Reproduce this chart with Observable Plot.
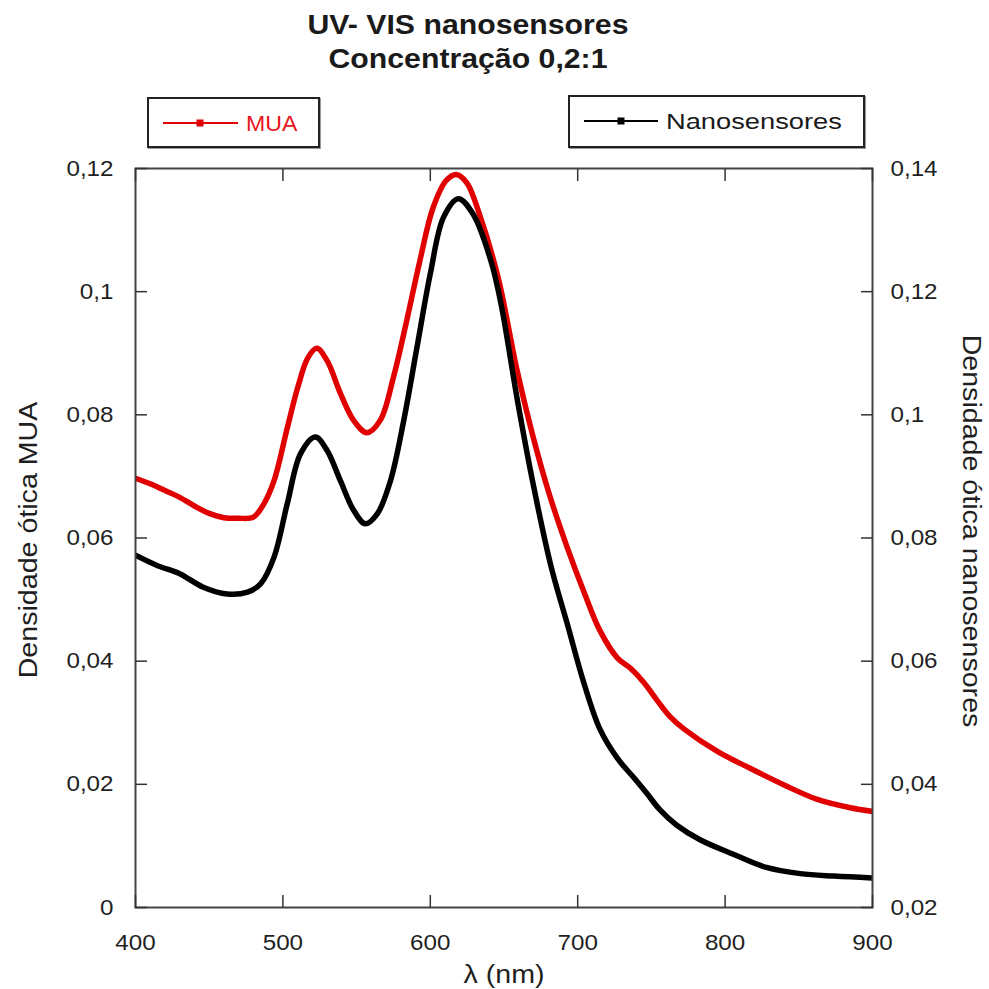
<!DOCTYPE html>
<html>
<head>
<meta charset="utf-8">
<script src="https://cdn.jsdelivr.net/npm/d3@7"></script>
<script src="https://cdn.jsdelivr.net/npm/@observablehq/plot@0.6"></script>
<style>
  body { margin: 0; background: #fff; }
  #chart { position: relative; width: 989px; height: 989px; font-family: "Liberation Sans", Arial, sans-serif; color: #1a1a1a; }
  #chart > svg { position: absolute; left: 0; top: 0; }
  .title { position: absolute; left: 0; width: 936px; text-align: center; font-weight: bold; font-size: 27px; line-height: 27px; white-space: nowrap; transform: scaleX(1.12); transform-origin: 468px 0; }
  .legend-box { position: absolute; border: 2px solid #222; box-sizing: border-box; background: #fff; box-shadow: 1px 1px 0 #999; }
  .legend-swatch { position: absolute; overflow: visible; }
  .legend-text { position: absolute; font-size: 22px; line-height: 22px; white-space: nowrap; transform-origin: 0 0; }
</style>
</head>
<body>
<div id="chart"></div>
<script>
// Absorption spectra (wavelength in nm, optical density)
const wavelengthsMUA = [400, 410, 420, 430, 440, 450, 460, 470, 480, 487, 494, 503, 510, 517, 523, 530, 539, 548, 557, 566, 575, 584, 593, 602, 611, 618, 625, 634, 646, 659, 670, 681, 693, 704, 715, 727, 736, 745, 754, 763, 772, 795, 817, 840, 862, 885, 900];
const densityMUA = [0.0697, 0.0688, 0.0677, 0.0666, 0.0652, 0.0640, 0.0633, 0.0632, 0.0634, 0.0655, 0.0693, 0.0779, 0.0844, 0.0893, 0.0908, 0.0888, 0.0835, 0.0791, 0.0771, 0.0791, 0.0861, 0.0953, 0.1051, 0.1137, 0.1181, 0.1190, 0.1176, 0.1121, 0.1023, 0.0871, 0.0762, 0.0669, 0.0584, 0.0514, 0.0450, 0.0405, 0.0388, 0.0365, 0.0336, 0.0309, 0.0290, 0.0253, 0.0226, 0.0199, 0.0176, 0.0162, 0.0156];

const wavelengthsNano = [400, 415, 430, 446, 462, 476, 485, 494, 503, 512, 522, 530, 539, 548, 556, 564, 573, 582, 591, 600, 609, 619, 629, 641, 648, 659, 670, 682, 693, 704, 715, 727, 738, 747, 756, 767, 783, 806, 828, 851, 874, 900];
const densityNano = [0.0772, 0.0755, 0.0742, 0.0720, 0.0709, 0.0712, 0.0726, 0.0769, 0.0856, 0.0937, 0.0964, 0.0942, 0.0893, 0.0845, 0.0823, 0.0839, 0.0893, 0.0991, 0.1110, 0.1229, 0.1321, 0.1351, 0.1326, 0.1251, 0.1180, 0.1025, 0.0885, 0.0753, 0.0660, 0.0566, 0.0490, 0.0442, 0.0411, 0.0385, 0.0358, 0.0334, 0.0310, 0.0286, 0.0265, 0.0255, 0.0251, 0.0248];

// Axis ticks
const xTicks = [400, 500, 600, 700, 800, 900];
const leftTicks = [0, 0.02, 0.04, 0.06, 0.08, 0.1, 0.12];
const rightTicks = [0.02, 0.04, 0.06, 0.08, 0.1, 0.12, 0.14];

// Texts
const titleLines = ["UV- VIS nanosensores", "Concentração 0,2:1"];
const seriesNames = ["MUA", "Nanosensores"];
const seriesColors = ["#e00000", "#000000"];
const xLabel = "λ (nm)";
const yLabelLeft = "Densidade ótica MUA";
const yLabelRight = "Densidade ótica nanosensores";

// The right axis is the left one shifted by this amount
const RIGHT_OFFSET = 0.02;

const muaData = wavelengthsMUA.map((nm, i) => ({nm, v: densityMUA[i]}));
const nanoData = wavelengthsNano.map((nm, i) => ({nm, v: densityNano[i]}));

const fmt = v => Math.abs(v) < 1e-9 ? "0" : String(+v.toFixed(2)).replace(".", ",");

const plot = Plot.plot({
  width: 989,
  height: 989,
  marginLeft: 135,
  marginRight: 117,
  marginTop: 168,
  marginBottom: 82,
  style: {fontFamily: "Liberation Sans, Arial, sans-serif", fontSize: "22px", color: "#1f1f1f", background: "white", overflow: "visible"},
  x: {domain: [400, 900]},
  y: {domain: [0, 0.12]},
  marks: [
    Plot.line(muaData, {x: "nm", y: "v", stroke: seriesColors[0], strokeWidth: 5.5, curve: "catmull-rom", clip: true}),
    Plot.line(nanoData, {x: "nm", y: d => d.v - RIGHT_OFFSET, stroke: seriesColors[1], strokeWidth: 5.5, curve: "catmull-rom", clip: true}),
    Plot.frame({stroke: "#444", strokeWidth: 2}),
    Plot.axisX(xTicks, {anchor: "bottom", tickSize: -12, tickPadding: 39, tickFormat: d => String(d), label: null, stroke: "#333", strokeWidth: 1.5}),
    Plot.axisX(xTicks, {anchor: "top", tickSize: -12, tickFormat: () => "", label: null, stroke: "#333", strokeWidth: 1.5}),
    Plot.axisY(leftTicks, {anchor: "left", tickSize: -12, tickPadding: 34, tickFormat: fmt, label: null, stroke: "#333", strokeWidth: 1.5}),
    Plot.axisY(rightTicks.map(v => v - RIGHT_OFFSET), {anchor: "right", tickSize: -12, tickPadding: 30, tickFormat: v => fmt(v + RIGHT_OFFSET), label: null, stroke: "#333", strokeWidth: 1.5}),
    Plot.text([yLabelLeft], {text: d => d, frameAnchor: "left", textAnchor: "middle", lineAnchor: "middle", dx: -107, dy: 2, rotate: -90, fontSize: 26}),
    Plot.text([yLabelRight], {text: d => d, frameAnchor: "right", textAnchor: "middle", lineAnchor: "middle", dx: 99, dy: -7, rotate: 90, fontSize: 26}),
    Plot.text([xLabel], {text: d => d, frameAnchor: "bottom", textAnchor: "middle", lineAnchor: "middle", dy: 67, fontSize: 26})
  ]
});

const chart = document.getElementById("chart");
chart.appendChild(plot);

// The printed lettering is slightly wide: stretch every label along its baseline
plot.querySelectorAll("text").forEach(t => {
  const x = t.getAttribute("x");
  const tr = t.getAttribute("transform") || "";
  const ax = x ? +x : 0;
  t.setAttribute("transform", `${tr} translate(${ax},0) scale(1.1,1) translate(${-ax},0)`);
});

// Title
titleLines.forEach((line, i) => {
  const d = document.createElement("div");
  d.className = "title";
  d.style.top = (12 + i * 34) + "px";
  d.textContent = line;
  chart.appendChild(d);
});

// Legends: one boxed entry per series
const legendLayout = [
  {box: [147, 97, 173, 51], line: [163, 238], marker: 200, y: 123, textX: 246, textTop: 113, stretch: 1.05},
  {box: [568, 95, 297, 53], line: [584, 658], marker: 621, y: 121, textX: 666, textTop: 111, stretch: 1.24}
];
seriesNames.forEach((name, i) => {
  const L = legendLayout[i];
  const box = document.createElement("div");
  box.className = "legend-box";
  Object.assign(box.style, {left: L.box[0] + "px", top: L.box[1] + "px", width: L.box[2] + "px", height: L.box[3] + "px"});
  chart.appendChild(box);

  const svgNS = "http://www.w3.org/2000/svg";
  const sw = document.createElementNS(svgNS, "svg");
  sw.setAttribute("class", "legend-swatch");
  sw.setAttribute("width", 989);
  sw.setAttribute("height", 200);
  sw.style.left = "0px";
  sw.style.top = "0px";
  const ln = document.createElementNS(svgNS, "line");
  ln.setAttribute("x1", L.line[0]); ln.setAttribute("x2", L.line[1]);
  ln.setAttribute("y1", L.y); ln.setAttribute("y2", L.y);
  ln.setAttribute("stroke", seriesColors[i]); ln.setAttribute("stroke-width", 2);
  sw.appendChild(ln);
  const mk = document.createElementNS(svgNS, "rect");
  mk.setAttribute("x", L.marker - 3.5); mk.setAttribute("y", L.y - 3.5);
  mk.setAttribute("width", 7); mk.setAttribute("height", 7);
  mk.setAttribute("fill", seriesColors[i]);
  sw.appendChild(mk);
  chart.appendChild(sw);

  const tx = document.createElement("div");
  tx.className = "legend-text";
  tx.textContent = name;
  Object.assign(tx.style, {left: L.textX + "px", top: L.textTop + "px", color: i === 0 ? "#e8141b" : "#1a1a1a", transform: `scaleX(${L.stretch})`});
  chart.appendChild(tx);
});
</script>
</body>
</html>
